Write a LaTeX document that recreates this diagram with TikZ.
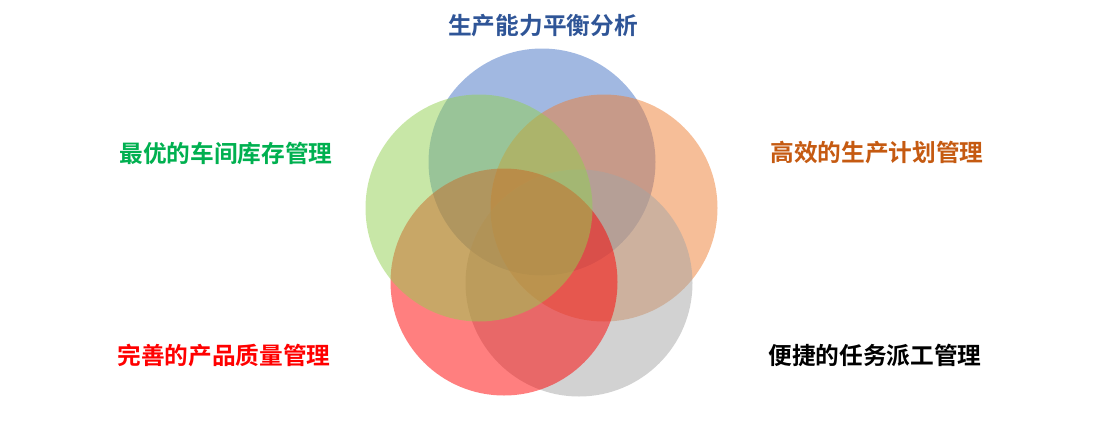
\documentclass[tikz,border=0pt]{standalone}
\usepackage{fontspec}
\usepackage{tikz}
\usetikzlibrary{positioning}
\newfontfamily\cjk{Noto Sans CJK SC}[BoldFont={Noto Sans CJK SC Bold}]
\definecolor{ringblue}{HTML}{4472C4}
\definecolor{ringorange}{HTML}{ED7D31}
\definecolor{ringgray}{HTML}{A5A5A5}
\definecolor{ringred}{HTML}{FF0000}
\definecolor{ringgreen}{HTML}{92D050}
\definecolor{titleblue}{HTML}{2F5597}
\definecolor{textgreen}{HTML}{00B050}
\definecolor{textorange}{HTML}{C55A11}

\begin{document}
\begin{tikzpicture}[x=1bp,y=-1bp,
  ring/.style={circle,minimum size=227bp,inner sep=0pt,fill opacity=.5},
  label/.style={font=\cjk\bfseries\fontsize{23.7bp}{27bp}\selectfont,inner sep=0pt}]

    \useasboundingbox (0,0) rectangle (1112,422);

    \node[ring,fill=ringblue]   (balance) at (542,162) {};
    \node[ring,fill=ringorange] (plan)    at (604,208) {};
    \node[ring,fill=ringgray]   (task)    at (579,283) {};
    \node[ring,fill=ringred]    (quality) at (504,282) {};
    \node[ring,fill=ringgreen]  (stock)   at (479,208) {};

    \node[label,text=titleblue]  (balancetxt) at (543,26)  {生产能力平衡分析};
    \node[label,text=textgreen]  (stocktxt)   at (226,153) {最优的车间库存管理};
    \node[label,text=textorange] (plantxt)    at (877,153) {高效的生产计划管理};
    \node[label,text=ringred]    (qualitytxt) at (224,355) {完善的产品质量管理};
    \node[label,text=black]      (tasktxt)    at (875,355) {便捷的任务派工管理};
\end{tikzpicture}
\end{document}
